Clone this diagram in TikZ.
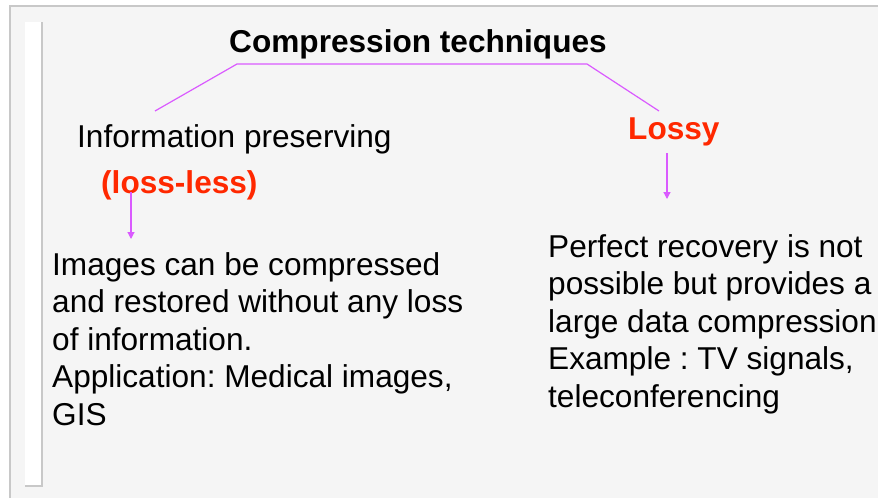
\documentclass[tikz,border=0pt]{standalone}
\usepackage{fontspec}
\setmainfont{Liberation Sans}
\usetikzlibrary{arrows.meta}
\frenchspacing
\definecolor{panelbg}{RGB}{245,245,245}
\definecolor{panelline}{RGB}{200,200,200}
\definecolor{conn}{RGB}{218,90,255}
\definecolor{hot}{RGB}{255,40,0}
\tikzset{
  txt/.style={inner sep=0pt, font=\fontsize{31.6}{37.5}\selectfont\frenchspacing, text=black},
  boldtxt/.style={txt, font=\fontsize{31.6}{37.5}\selectfont\bfseries},
  redtxt/.style={boldtxt, text=hot},
  block/.style={txt, align=left, anchor=north west},
  conline/.style={draw=conn, line width=1.2pt},
  arr/.style={conline, -{Triangle[length=7pt,width=7pt]}},
  edge/.style={draw=panelline, line width=1.5pt}
}
\begin{document}
\begin{tikzpicture}[x=1pt,y=-1pt]
\useasboundingbox (0,0) rectangle (878,498);
% panel
\fill[panelbg] (10,6) rectangle (878,498);
\draw[edge] (10,498) -- (10,6) -- (878,6);
\fill[white] (25,22) rectangle (42,486);
\draw[edge] (25,486) -- (42,486) -- (42,22);
% texts
\node[boldtxt, anchor=base] (title) at (418,52) {Compression techniques};
\node[txt, anchor=base west] (info) at (77,147) {Information preserving};
\node[redtxt, anchor=base west] (lossless) at (101,193) {(loss-less)};
\node[redtxt, anchor=base west] (lossy) at (628,139) {Lossy};
\node[block] (leftbody) at (52,252) {Images can be compressed\\and restored without any loss\\of information.\\Application: Medical images,\\GIS};
\node[block] (rightbody) at (548,234) {Perfect recovery is not\\possible but provides a\\large data compression\\Example : TV signals,\\teleconferencing};
% connectors
\coordinate (cl) at (155,111);
\coordinate (cla) at (237,64);
\coordinate (crb) at (587,64);
\coordinate (cr) at (659,111);
\draw[conline] (cl) -- (cla) -- (crb) -- (cr);
\coordinate (a1) at (131,192);
\coordinate (a2) at (131,239);
\draw[arr] (a1) -- (a2);
\coordinate (b1) at (667,153);
\coordinate (b2) at (667,199);
\draw[arr] (b1) -- (b2);
\end{tikzpicture}
\end{document}
